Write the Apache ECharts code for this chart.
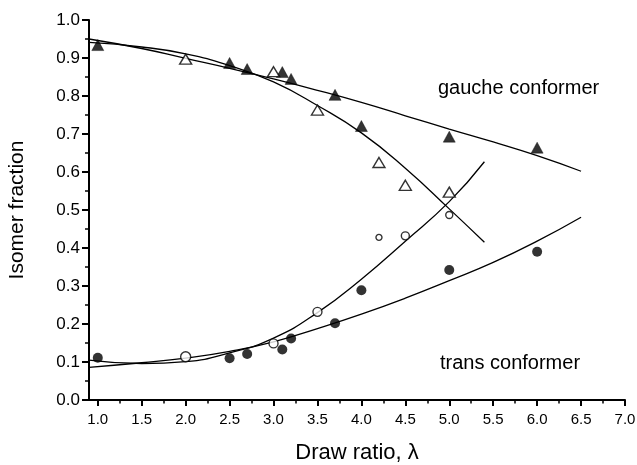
<!DOCTYPE html>
<html>
<head>
<meta charset="utf-8">
<script src="https://cdn.jsdelivr.net/npm/echarts@6/dist/echarts.min.js"></script>
<style>
html,body{margin:0;padding:0;background:#fff;}
#chart{width:637px;height:465px;}
</style>
</head>
<body>
<div id="chart"></div>
<script>
// ---- data ----
const xTickValues = [1.0, 1.5, 2.0, 2.5, 3.0, 3.5, 4.0, 4.5, 5.0, 5.5, 6.0, 6.5, 7.0];
const xMinorTickValues = [1.25, 1.75, 2.25, 2.75, 3.25, 3.75, 4.25, 4.75, 5.25, 5.75, 6.25, 6.75];

const gaucheFilledX = [1.0, 2.5, 2.7, 3.1, 3.2, 3.7, 4.0, 5.0, 6.0];
const gaucheFilledY = [0.934, 0.887, 0.871, 0.863, 0.845, 0.803, 0.721, 0.693, 0.664];

const gaucheOpenX = [2.0, 3.0, 3.5, 4.2, 4.5, 5.0];
const gaucheOpenY = [0.897, 0.864, 0.763, 0.625, 0.565, 0.547];

const transOpenX = [2.0, 3.0, 3.5, 4.2, 4.5, 5.0];
const transOpenY = [0.114, 0.149, 0.232, 0.428, 0.432, 0.487];

const transFilledX = [1.0, 2.5, 2.7, 3.1, 3.2, 3.7, 4.0, 5.0, 6.0];
const transFilledY = [0.111, 0.110, 0.121, 0.133, 0.162, 0.202, 0.289, 0.342, 0.390];

// fitted curves
const fitGaucheFilledX = [0.9, 1.5, 2.0, 2.5, 3.0, 3.5, 4.0, 4.5, 5.0, 5.5, 6.0, 6.5];
const fitGaucheFilledY = [0.950, 0.925, 0.899, 0.873, 0.845, 0.815, 0.783, 0.748, 0.713, 0.679, 0.643, 0.602];

const fitGaucheOpenX = [0.9, 1.5, 2.0, 2.5, 3.0, 3.5, 4.0, 4.5, 5.0, 5.4];
const fitGaucheOpenY = [0.941, 0.929, 0.911, 0.880, 0.837, 0.775, 0.703, 0.610, 0.503, 0.415];

const fitTransOpenX = [0.9, 1.5, 2.0, 2.5, 3.0, 3.5, 4.0, 4.5, 5.0, 5.4];
const fitTransOpenY = [0.105, 0.096, 0.101, 0.124, 0.163, 0.230, 0.318, 0.418, 0.522, 0.627];

const fitTransFilledX = [0.9, 1.5, 2.0, 2.5, 3.0, 3.5, 4.0, 4.5, 5.0, 5.5, 6.0, 6.5];
const fitTransFilledY = [0.086, 0.098, 0.110, 0.128, 0.153, 0.188, 0.226, 0.268, 0.314, 0.362, 0.418, 0.481];

// ---- styling ----
const transOpenSizes = [10, 9, 9, 6, 8, 7];
const FONT = '"Liberation Sans", Arial, Helvetica, sans-serif';

function pairs(xs, ys) { return xs.map((x, i) => [x, ys[i]]); }

const chart = echarts.init(document.getElementById('chart'), null, {renderer: 'canvas'});

function fitLine(xs, ys) {
  return {
    type: 'line', data: pairs(xs, ys), smooth: true, showSymbol: false, symbol: 'none',
    lineStyle: {color: '#000', width: 1.3}, z: 2, silent: true
  };
}

const option = {
  backgroundColor: '#fff',
  animation: false,
  grid: {left: 89, right: 12, top: 20, bottom: 65, containLabel: false, outerBoundsMode: 'none'},
  xAxis: [{
    type: 'value', min: 0.9, max: 7.0, position: 'bottom',
    name: 'Draw ratio, λ', nameLocation: 'middle', nameGap: 42,
    nameTextStyle: {fontFamily: FONT, fontSize: 22, color: '#000'},
    axisLine: {show: true, onZero: false, lineStyle: {color: '#000', width: 2}},
    axisTick: {show: true, inside: false, length: 6, lineStyle: {color: '#000', width: 2}, customValues: xTickValues},
    axisLabel: {show: true, margin: 12, color: '#000', fontFamily: FONT, fontSize: 15,
      customValues: xTickValues, formatter: v => v.toFixed(1)},
    splitLine: {show: false}
  }, {
    type: 'value', min: 0.9, max: 7.0, position: 'bottom',
    axisLine: {show: false, onZero: false},
    axisTick: {show: true, inside: false, length: 3.5, lineStyle: {color: '#000', width: 1.5}, customValues: xMinorTickValues},
    axisLabel: {show: false},
    splitLine: {show: false}
  }],
  yAxis: {
    type: 'value', min: 0, max: 1.0, interval: 0.1,
    name: 'Isomer fraction', nameLocation: 'middle', nameGap: 61,
    nameTextStyle: {fontFamily: FONT, fontSize: 21, color: '#000'},
    axisLine: {show: true, onZero: false, lineStyle: {color: '#000', width: 2}},
    axisTick: {show: true, inside: false, length: 7, lineStyle: {color: '#000', width: 2}},
    minorTick: {show: true, splitNumber: 2, length: 4, lineStyle: {color: '#000', width: 1.5}},
    axisLabel: {show: true, margin: 9, color: '#000', fontFamily: FONT, fontSize: 17,
      formatter: v => v.toFixed(1)},
    splitLine: {show: false},
    minorSplitLine: {show: false}
  },
  series: [
    fitLine(fitGaucheFilledX, fitGaucheFilledY),
    fitLine(fitGaucheOpenX, fitGaucheOpenY),
    fitLine(fitTransOpenX, fitTransOpenY),
    fitLine(fitTransFilledX, fitTransFilledY),
    {
      type: 'scatter', data: pairs(gaucheFilledX, gaucheFilledY),
      symbol: 'triangle', symbolSize: [12, 11],
      itemStyle: {color: '#000', borderColor: '#000', borderWidth: 0.5}, z: 5
    },
    {
      type: 'scatter', data: pairs(gaucheOpenX, gaucheOpenY),
      symbol: 'triangle', symbolSize: [12, 10],
      itemStyle: {color: '#fff', borderColor: '#000', borderWidth: 1.4}, z: 5
    },
    {
      type: 'scatter', data: pairs(transOpenX, transOpenY),
      symbol: 'circle', symbolSize: (v, p) => transOpenSizes[p.dataIndex],
      itemStyle: {color: '#fff', borderColor: '#000', borderWidth: 1.4}, z: 5
    },
    {
      type: 'scatter', data: pairs(transFilledX, transFilledY),
      symbol: 'circle', symbolSize: 10,
      itemStyle: {color: '#000'}, z: 5
    }
  ],
  graphic: [
    {type: 'text', left: 438, top: 78, z: 10,
      style: {text: 'gauche conformer', fontFamily: FONT, fontSize: 20, fill: '#000'}},
    {type: 'text', left: 440, top: 353, z: 10,
      style: {text: 'trans conformer', fontFamily: FONT, fontSize: 20, fill: '#000'}}
  ]
};

chart.setOption(option);
</script>
</body>
</html>
